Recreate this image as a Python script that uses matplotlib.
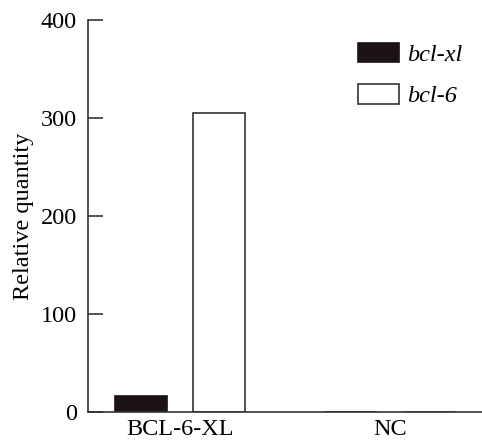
import matplotlib
matplotlib.use("Agg")
import matplotlib.pyplot as plt
import numpy as np

categories = ["BCL-6-XL", "NC"]
series_names = ["bcl-xl", "bcl-6"]
bcl_xl = [16, 0]
bcl_6 = [305, 0]
yticks = [0, 100, 200, 300, 400]

plt.rcParams['font.family'] = ['Liberation Serif', 'DejaVu Serif']
fs = 17.5

fig = plt.figure(figsize=(4.82, 4.42), dpi=100)
ax = fig.add_axes([88/482, 1-412/442, 1-88/482, (412-20)/442])

x = np.arange(len(categories))
w = 0.248
off = 0.187
ax.bar(x - off, bcl_xl, w, color='#1c1414', edgecolor='#1c1414', linewidth=1.2, label=series_names[0])
ax.bar(x + off, bcl_6, w, color='white', edgecolor='#333333', linewidth=1.2, label=series_names[1])

ax.set_xlim(-0.438, 1.438)
ax.set_ylim(0, 400)
ax.set_yticks(yticks)
ax.set_xticks(x)
ax.set_xticklabels(categories, fontsize=fs)
ax.tick_params(axis='y', direction='in', length=11, width=1.2, labelsize=fs, pad=8, color='#333333')
ax.tick_params(axis='x', length=0, labelsize=fs, pad=5)
ax.set_ylabel("Relative quantity", fontsize=fs, labelpad=5)
for s in ['top', 'right']:
    ax.spines[s].set_visible(False)
for s in ['left', 'bottom']:
    ax.spines[s].set_linewidth(1.2)
    ax.spines[s].set_color('#333333')

leg = ax.legend(loc='upper left', bbox_to_anchor=((358-88)/394, 1 - (43-20)/392),
                frameon=False, fontsize=fs, handlelength=1.7, handleheight=0.85,
                handletextpad=0.3, labelspacing=0.75, borderpad=0, borderaxespad=0)
for t in leg.get_texts():
    t.set_fontstyle('italic')

fig.savefig("out.png", dpi=100)
